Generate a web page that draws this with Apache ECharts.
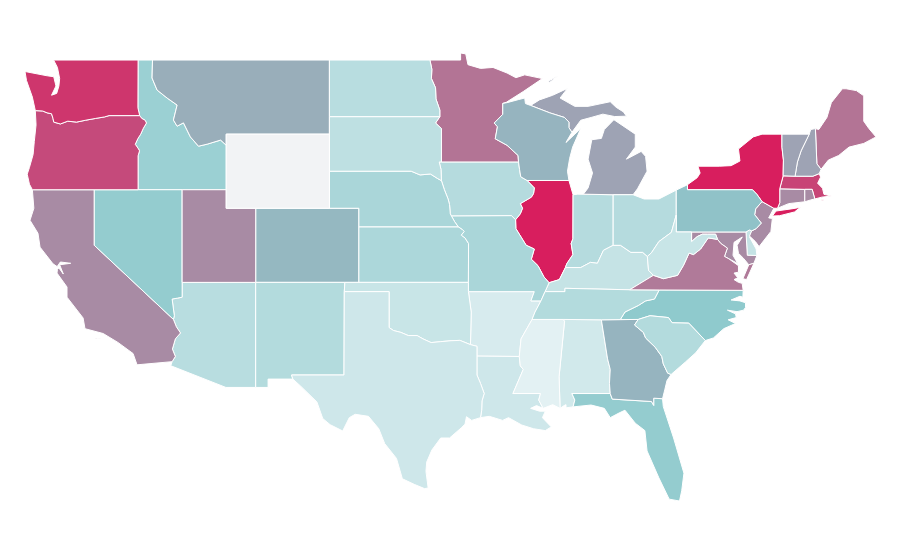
<!DOCTYPE html>
<html>
<head>
<meta charset="utf-8">
<style>html,body{margin:0;background:#fff}#chart{width:900px;height:560px}</style>
<script src="https://cdn.jsdelivr.net/npm/echarts@6/dist/echarts.min.js"></script>
</head>
<body>
<div id="chart"></div>
<script>
const stateNames = ["Alabama","Arizona","Arkansas","California","Colorado","Connecticut","Delaware","Florida","Georgia","Idaho","Illinois","Indiana","Iowa","Kansas","Kentucky","Louisiana","Maine","Maryland","Massachusetts","Michigan","Minnesota","Mississippi","Missouri","Montana","Nebraska","Nevada","New Hampshire","New Jersey","New Mexico","New York","North Carolina","North Dakota","Ohio","Oklahoma","Oregon","Pennsylvania","Rhode Island","South Carolina","South Dakota","Tennessee","Texas","Utah","Vermont","Virginia","Washington","West Virginia","Wisconsin","Wyoming"];
const stateValues = [12,26,9,68,55,68,19,46,56,42,100,28,28,33,19,14,75,68,89,61,75,2,34,58,34,46,61,68,29,100,49,26,28,17,87,52,68,29,23,29,14,68,61,73,93,17,56,null];
const scaleColors = ["#e7f3f5","#8dc9cc","#d81e5e"];
const noDataColor = "#f2f3f5";

// shared borders, lon/lat
const back = a => a.slice().reverse();
const columbia = [[-124.0,46.27],[-123.5,46.25],[-123.2,46.15],[-122.9,46.1],[-122.8,45.85],[-122.75,45.65],[-122.3,45.55],[-121.8,45.7],[-121.2,45.65],[-120.6,45.75],[-119.9,45.85],[-119.3,45.93],[-119.0,46.0],[-116.92,46.0]];
const snake = [[-116.92,46.0],[-116.78,45.85],[-116.55,45.75],[-116.46,45.6],[-116.67,45.32],[-116.85,45.0],[-117.05,44.75],[-117.22,44.45],[-117.04,44.25],[-116.93,44.1],[-117.03,43.83],[-117.03,42.0]];
const bitterroot = [[-116.05,49],[-116.08,48.03],[-115.74,47.38],[-115.06,46.95],[-114.38,46.57],[-114.63,45.76],[-114.38,45.43],[-113.95,45.61],[-113.48,44.85],[-112.93,44.35],[-112.34,44.46],[-111.43,44.68],[-111.05,44.4]];
const redNorth = [[-97.23,49],[-97.1,48.5],[-97.13,48],[-96.85,47.5],[-96.82,46.9],[-96.56,46.3],[-96.56,45.94]];
const siouxMo = [[-96.45,43.5],[-96.6,43.5],[-96.48,43.1],[-96.45,42.49]];
const moUpperSd = [[-98.5,43.0],[-97.9,42.8],[-97.2,42.85],[-96.7,42.6],[-96.45,42.49]];
const moIowa = [[-96.45,42.49],[-96.25,42.0],[-96.0,41.5],[-95.9,41.2],[-95.85,40.7],[-95.77,40.58]];
const redTexas = [[-94.48,33.64],[-95.2,33.87],[-95.8,33.85],[-96.5,33.8],[-97.15,33.75],[-97.7,33.95],[-98.1,34.13],[-98.7,34.13],[-99.2,34.3],[-99.7,34.4],[-100,34.56]];
const sabine = [[-94.04,32],[-93.8,31.55],[-93.55,31],[-93.7,30.6],[-93.72,30.1],[-93.8,29.7]];
const coloradoRiver = [[-114.72,32.72],[-114.5,33.0],[-114.7,33.4],[-114.5,33.95],[-114.15,34.27],[-114.43,34.6],[-114.63,35.0]];
const nevadaArizona = [[-114.63,35.0],[-114.57,35.2],[-114.72,36.1],[-114.35,36.15],[-114.04,36.2]];
const stCroix = [[-92.29,46.66],[-92.29,46.07],[-92.87,45.6],[-92.65,45.4],[-92.8,44.75],[-92.0,44.4],[-91.25,43.85],[-91.22,43.5]];
const wiMi = [[-90.4,46.55],[-89.1,46.15],[-88.1,45.9],[-87.8,45.65],[-87.8,45.35],[-87.6,45.1]];
const upperMissIowa = [[-91.22,43.5],[-91.15,43.1],[-91.07,42.7],[-90.64,42.5]];
const missIowaIl = [[-90.64,42.5],[-90.15,42.1],[-90.2,41.8],[-90.35,41.6],[-91.1,41.25],[-90.95,41.0],[-91.1,40.7],[-91.42,40.38]];
const missMoIl = [[-91.42,40.38],[-91.4,39.9],[-90.7,39],[-90.15,38.8],[-90.35,38.25],[-89.9,37.9],[-89.5,37.3],[-89.15,36.98]];
const wabash = [[-87.52,41.73],[-87.53,39.35],[-87.65,39.1],[-87.53,38.5],[-87.95,38.0],[-88.04,37.8]];
const ohioIlKy = [[-88.04,37.8],[-88.45,37.15],[-89.15,36.98]];
const ohioInKy = [[-84.8,39],[-85.46,38.73],[-85.87,38.03],[-86.34,38.08],[-87,37.8],[-88.04,37.8]];
const ohioOh = [[-80.52,40.64],[-80.85,39.7],[-81.7,39.2],[-82.2,38.6],[-82.48,38.4]];
const ohioOhKy = [[-82.48,38.4],[-82.8,38.62],[-83.6,38.62],[-84.3,39],[-84.8,39]];
const bigSandy = [[-82.48,38.4],[-82.4,37.65],[-82.07,37.38]];
const kyVa = [[-82.07,37.38],[-83.68,36.6]];
const missTn = [[-90.3,35],[-90.1,35.4],[-89.7,36],[-89.42,36.5],[-89.15,36.98]];
const missAr = [[-90.3,35],[-91.05,33.95],[-91.17,33]];
const missLa = [[-91.17,33],[-91.1,32.5],[-90.9,32.3],[-91.6,31]];
const pearl = [[-89.73,31],[-89.85,30.65],[-89.55,30.2]];
const tnNc = [[-81.68,36.59],[-82,36.1],[-82.6,36],[-83.1,35.75],[-84,35.4],[-84.32,34.99]];
const alGa = [[-85.6,34.98],[-85.18,32.87],[-85,32.3],[-85.05,31.55],[-85,31]];
const alMs = [[-88.2,35],[-88.1,34.9],[-88.47,31.9],[-88.4,30.2]];
const savannah = [[-83.1,35],[-83.35,34.7],[-82.75,34.3],[-82.6,34],[-81.95,33.5],[-81.5,33],[-81.4,32.6],[-81.1,32.1],[-80.87,32.03]];
const ncSc = [[-83.1,35],[-82.3,35.2],[-81.05,35.1],[-80.8,34.82],[-79.67,34.8],[-78.55,33.86]];
const gaFl = [[-85,31],[-84.86,30.7],[-82.2,30.57],[-82.05,30.36],[-82.05,30.75],[-81.45,30.72]];
const potomac = [[-76.3,37.9],[-76.95,38.27],[-77.25,38.4],[-77.05,38.85],[-77.5,39.1],[-77.72,39.32]];
const vaWv = [[-77.72,39.32],[-78.35,39.4],[-78.87,38.8],[-79.35,38.5],[-79.65,38.58],[-80.03,37.92],[-80.43,37.38],[-81.39,37.2],[-82.07,37.38]];
const mdWv = [[-79.48,39.2],[-79.1,39.47],[-78.75,39.6],[-78.4,39.6],[-77.85,39.6],[-77.72,39.32]];
const delaware = [[-75.4,39.78],[-75.1,39.9],[-74.75,40.2],[-75.2,40.65],[-75.13,40.97],[-74.7,41.36],[-75.05,41.75],[-75.35,42]];
const vtNh = [[-72.46,42.73],[-72.3,43.5],[-72.05,44.1],[-71.5,45]];
const meNh = [[-70.7,43.1],[-70.98,43.4],[-71.08,45.3]];

const shapes = {
  "Washington": [[[-124.7,48.38],[-124.6,47.9],[-124.2,47],...columbia,[-117.04,46.42],[-117.03,49],[-122.76,49],[-122.5,48.6],[-122.35,48],[-122.4,47.6],[-122.55,47.2],[-122.9,47.1],[-122.6,47.6],[-122.75,48.1],[-123.2,48.15]]],
  "Oregon": [[[-124.2,42],[-124.4,42.3],[-124.55,42.84],[-124.4,43.2],[-124.15,43.9],[-124.07,44.6],[-123.95,45.5],...columbia,...snake]],
  "California": [[[-124.2,42],[-120,42],[-120,39],...back(coloradoRiver),[-117.1,32.55],[-117.37,33.16],[-118.4,33.76],[-119.4,34.24],[-120.63,34.5],[-120.76,35.08],[-121.85,36.2],[-121.85,36.75],[-122.53,37.5],[-122.5,37.7],[-122.4,37.78],[-122.1,37.45],[-122.35,37.95],[-121.6,38.03],[-122.3,38.1],[-122.52,37.85],[-122.8,38],[-123.68,38.9],[-123.82,39.65],[-124.36,40.35],[-124.1,41]],[[-119.9,34],[-119.55,34],[-119.55,33.95],[-119.9,33.95]]],
  "Nevada": [[[-120,42],[-114.04,42],...back(nevadaArizona),[-120,39]]],
  "Idaho": [[[-117.03,49],...bitterroot,[-111.05,42],...back(snake),[-117.04,46.42]]],
  "Montana": [[...bitterroot,[-111.05,45],[-104.05,45],[-104.05,49]]],
  "Wyoming": [[[-111.05,45],[-104.05,45],[-104.05,41],[-111.05,41]]],
  "Utah": [[[-114.04,42],[-111.05,42],[-111.05,41],[-109.05,41],[-109.05,37],[-114.04,37]]],
  "Colorado": [[[-109.05,41],[-102.05,41],[-102.05,37],[-109.05,37]]],
  "Arizona": [[[-114.04,37],[-109.05,37],[-109.05,31.33],[-111.07,31.33],[-114.81,32.5],...coloradoRiver,...nevadaArizona]],
  "New Mexico": [[[-109.05,37],[-103,37],[-103.04,36.5],[-103.06,32],[-106.62,32],[-106.53,31.78],[-108.21,31.78],[-108.21,31.33],[-109.05,31.33]]],
  "North Dakota": [[[-104.05,49],...redNorth,[-104.05,45.94]]],
  "South Dakota": [[[-104.05,45.94],[-96.56,45.94],[-96.85,45.6],[-96.45,45.3],...siouxMo,...back(moUpperSd),[-104.05,43]]],
  "Nebraska": [[[-104.05,43],...moUpperSd,...moIowa,[-95.55,40.27],[-95.31,40],[-102.05,40],[-102.05,41],[-104.05,41]]],
  "Kansas": [[[-102.05,40],[-95.31,40],[-95.05,39.87],[-94.9,39.75],[-95.1,39.55],[-94.85,39.4],[-94.61,39.1],[-94.62,37],[-102.05,37]]],
  "Oklahoma": [[[-103,37],[-94.62,37],[-94.62,36.5],[-94.43,35.4],...redTexas,[-100,36.5],[-103.04,36.5]]],
  "Texas": [[[-103.04,36.5],[-100,36.5],...back(redTexas),[-94.04,33.55],...sabine,[-94.4,29.55],[-94.75,29.75],[-94.85,29.35],[-95.1,29.15],[-95.9,28.6],[-96.5,28.6],[-97.1,27.95],[-97.45,27.3],[-97.5,26.8],[-97.35,25.9],[-97.6,25.87],[-98.3,26.1],[-99.1,26.4],[-99.5,27.5],[-100.3,28.3],[-100.7,29.1],[-101.4,29.77],[-102.3,29.88],[-102.7,29.7],[-103.15,28.98],[-104,29.32],[-104.5,29.65],[-104.9,30.55],[-106,31.4],[-106.53,31.78],[-106.62,32],[-103.06,32]]],
  "Minnesota": [[...redNorth,[-96.85,45.6],[-96.45,45.3],[-96.45,43.5],...back(stCroix),[-92.05,46.72],[-90.9,47.3],[-89.6,48],[-90.8,48.2],[-91.4,48.05],[-92,48.3],[-92.95,48.6],[-93.8,48.55],[-94.65,48.75],[-94.8,49.33],[-95.15,49.38],[-95.15,49]]],
  "Iowa": [[[-96.45,43.5],[-91.22,43.5],[-91.15,43.1],[-91.07,42.7],...missIowaIl,[-91.7,40.6],...back(moIowa),[-96.48,43.1],[-96.6,43.5]]],
  "Missouri": [[[-95.77,40.58],[-91.7,40.6],...missMoIl,[-89.42,36.5],[-89.7,36],[-90.38,36],[-90.15,36.5],[-94.62,36.5],[-94.62,37],[-94.61,39.1],[-94.85,39.4],[-95.1,39.55],[-94.9,39.75],[-95.05,39.87],[-95.31,40],[-95.55,40.27]]],
  "Arkansas": [[[-94.62,36.5],[-90.15,36.5],[-90.38,36],[-89.7,36],[-90.1,35.4],...missAr,[-94.04,33.02],[-94.04,33.55],[-94.48,33.64],[-94.43,35.4]]],
  "Louisiana": [[[-94.04,33.02],...missLa,...pearl,[-90,30.35],[-90.4,30.2],[-89.8,30.05],[-89.4,30.05],[-89.6,29.7],[-89,29.2],[-89.4,29],[-90.2,29.1],[-91,29.3],[-91.9,29.7],[-92.3,29.55],[-93.2,29.77],...back(sabine)]],
  "Wisconsin": [[[-92.29,46.66],[-92,46.7],[-91.2,46.87],[-90.8,46.95],[-90.75,46.65],...wiMi,[-88,44.55],[-87.4,45],[-87,45.3],[-87.55,44.3],[-87.75,43.7],[-87.9,43],[-87.8,42.5],[-90.64,42.5],...back(upperMissIowa),...back(stCroix)]],
  "Illinois": [[[-90.64,42.5],[-87.8,42.5],...wabash,...ohioIlKy,...back(missMoIl),...back(missIowaIl)]],
  "Indiana": [[[-87.52,41.73],[-87.2,41.76],[-84.8,41.73],...ohioInKy,...back(wabash)]],
  "Ohio": [[[-84.8,41.73],[-83.45,41.73],[-82.7,41.5],[-81.7,41.5],[-80.52,41.98],...ohioOh,...ohioOhKy]],
  "Michigan": [[[-86.82,41.76],[-84.8,41.73],[-83.45,41.73],[-83.15,42.05],[-82.5,43],[-82.6,43.8],[-82.9,44.07],[-83.9,43.65],[-83.3,44.3],[-83.3,45],[-84.75,45.78],[-85.4,45.25],[-85.6,44.77],[-86.25,44.7],[-86.5,43.65],[-86.2,42.9],[-86.5,42.1]],[...wiMi,[-87,45.75],[-86.3,45.9],[-85.5,46.08],[-84.7,45.95],[-83.9,45.97],[-84.1,46.2],[-84.6,46.45],[-85,46.75],[-86.5,46.5],[-87.4,46.5],[-88.4,46.95],[-87.9,47.47],[-88.9,47.1],[-89.8,46.85]],[[-89.2,47.85],[-88.55,48.15],[-88.5,48.1],[-89.1,47.8]]],
  "Kentucky": [[...ohioOhKy,...ohioInKy.slice(1),...ohioIlKy.slice(1),[-89.42,36.5],[-88.07,36.5],[-88.07,36.68],...back(kyVa),...back(bigSandy)]],
  "Tennessee": [[...missTn.slice(0,4),[-88.07,36.5],[-88.07,36.68],[-83.68,36.6],...tnNc,[-85.6,34.98],[-88.2,35]]],
  "Mississippi": [[[-90.3,35],[-88.2,35],...alMs.slice(1),[-88.9,30.4],...back(pearl),[-91.6,31],...back(missLa),...back(missAr).slice(1)]],
  "Alabama": [[[-88.2,35],...alGa,[-87.6,31],[-87.4,30.65],[-87.52,30.28],[-88,30.23],[-88,30.4],[-88.13,30.35],...back(alMs)]],
  "Georgia": [[...alGa,...gaFl,[-81.3,31.2],[-81.15,31.7],...back(savannah)]],
  "Florida": [[[-87.6,31],...gaFl,[-81.4,30.3],[-80.7,28.6],[-80,26.7],[-80.15,25.75],[-80.3,25.2],[-81,25.3],[-81.7,26.45],[-82.5,27.9],[-82.65,29],[-83.3,29.4],[-84,30.1],[-84.4,29.95],[-85,29.7],[-85.4,30.2],[-86.3,30.38],[-87.52,30.28],[-87.4,30.65]]],
  "South Carolina": [[...ncSc,[-79.2,33.2],[-79.9,32.7],...back(savannah)]],
  "North Carolina": [[...tnNc,[-83.1,35],...ncSc.slice(1),[-78,34],[-77.3,34.5],[-76.5,34.78],[-77,34.98],[-76.45,35.1],[-76.5,35.3],[-77.05,35.5],[-76.4,35.42],[-75.95,35.5],[-75.82,35.65],[-75.82,35.9],[-76.2,36],[-76.8,36.05],[-76.2,36.25],[-76,36.2],[-75.98,36.57]]],
  "Virginia": [[[-83.68,36.6],[-81.68,36.59],[-75.98,36.57],[-76.05,36.95],[-76.3,37],[-76.6,37.15],[-76.35,37.25],[-76.6,37.5],[-76.3,37.55],...potomac,...vaWv,...kyVa],[[-76,37.2],[-75.6,37.95],[-75.25,38.03],[-75.75,37.15]]],
  "West Virginia": [[...back(bigSandy),[-82.2,38.6],[-81.7,39.2],[-80.85,39.7],[-80.52,40.64],[-80.52,39.72],[-79.48,39.72],...mdWv,...vaWv]],
  "Maryland": [[[-79.48,39.72],[-75.79,39.72],[-75.7,38.46],[-75.05,38.45],[-75.25,38.03],[-75.6,37.95],[-75.96,38.3],[-76.3,38.57],[-76.39,39],[-76.04,39.45],[-76.6,39.16],[-76.67,38.46],[-76.35,38.02],[-76.95,38.27],[-77.25,38.4],[-77.05,38.85],[-77.5,39.1],...back(mdWv)]],
  "Delaware": [[[-75.79,39.72],[-75.55,39.83],[-75.4,39.78],[-75.55,39.45],[-75.1,38.8],[-75.05,38.45],[-75.7,38.46]]],
  "Pennsylvania": [[[-80.52,41.98],[-79.76,42.27],[-79.76,42],...back(delaware),[-75.55,39.83],[-75.79,39.72],[-80.52,39.72],[-80.52,40.64]]],
  "New Jersey": [[...delaware.slice(0,6),[-73.9,41],[-74.25,40.48],[-74,40.45],[-74.1,39.75],[-74.9,38.93],[-75.15,39.2],[-75.55,39.5]]],
  "New York": [[[-79.76,42.27],[-79.76,42],[-75.35,42],[-75.05,41.75],[-74.7,41.36],[-73.9,41],[-73.65,41],[-73.5,41.3],[-73.5,42.05],[-73.27,42.75],[-73.25,43.6],[-73.35,44.3],[-73.35,45],[-74.7,45],[-75.3,44.85],[-76.3,44.2],[-76.2,43.55],[-76.8,43.3],[-77.6,43.27],[-79.05,43.27],[-78.9,42.9],[-79.1,42.65]],[[-74,40.58],[-73.75,40.85],[-72.6,40.98],[-72.1,41.05],[-72.5,40.8],[-73.5,40.6]]],
  "Connecticut": [[[-73.5,42.05],[-71.8,42.02],[-71.8,41.35],[-72.9,41.25],[-73.65,41],[-73.5,41.3]]],
  "Rhode Island": [[[-71.8,42.02],[-71.3,42.02],[-71.12,41.5],[-71.4,41.45],[-71.8,41.35]]],
  "Massachusetts": [[[-73.5,42.05],[-71.8,42.02],[-71.3,42.02],[-71.12,41.5],[-70.65,41.6],[-70,41.66],[-70.5,41.75],[-70.6,42.08],[-70.93,42.35],[-70.73,42.68],[-70.82,42.87],[-71.25,42.73],[-72.46,42.73],[-73.27,42.75]],[[-70.65,41.4],[-70.55,41.4],[-70.55,41.46],[-70.65,41.46]]],
  "Vermont": [[[-73.27,42.75],...vtNh,[-73.35,45],[-73.35,44.3],[-73.25,43.6]]],
  "New Hampshire": [[...vtNh,[-71.4,45.25],...back(meNh),[-70.82,42.87],[-71.25,42.73]]],
  "Maine": [[...meNh,[-70.85,45.25],[-70.3,45.9],[-70,46.7],[-69.25,47.45],[-69,47.45],[-68.3,47.35],[-67.8,47.07],[-67.8,45.7],[-67.45,45.3],[-66.97,44.85],[-67.8,44.5],[-68.8,44.3],[-69.5,43.85],[-70.2,43.6]]]
};

const usaGeo = {
  type: "FeatureCollection",
  features: stateNames.map(name => ({
    type: "Feature",
    properties: { name: name },
    geometry: { type: "MultiPolygon", coordinates: shapes[name].map(ring => [ring]) }
  }))
};
echarts.registerMap("USA", usaGeo);

const myChart = echarts.init(document.getElementById("chart"));
const option = {
  backgroundColor: "#fff",
  animation: false,
  visualMap: {
    show: false,
    min: 0,
    max: 100,
    inRange: { color: scaleColors }
  },
  series: [
    {
      type: "map",
      map: "USA",
      aspectScale: 0.797,
      left: 25,
      top: 53,
      width: 851,
      height: 448,
      silent: true,
      label: { show: false },
      itemStyle: { areaColor: noDataColor, borderColor: "#fff", borderWidth: 1 },
      data: stateNames.map((name, i) => ({ name: name, value: stateValues[i] }))
    }
  ]
};
myChart.setOption(option);
</script>
</body>
</html>
